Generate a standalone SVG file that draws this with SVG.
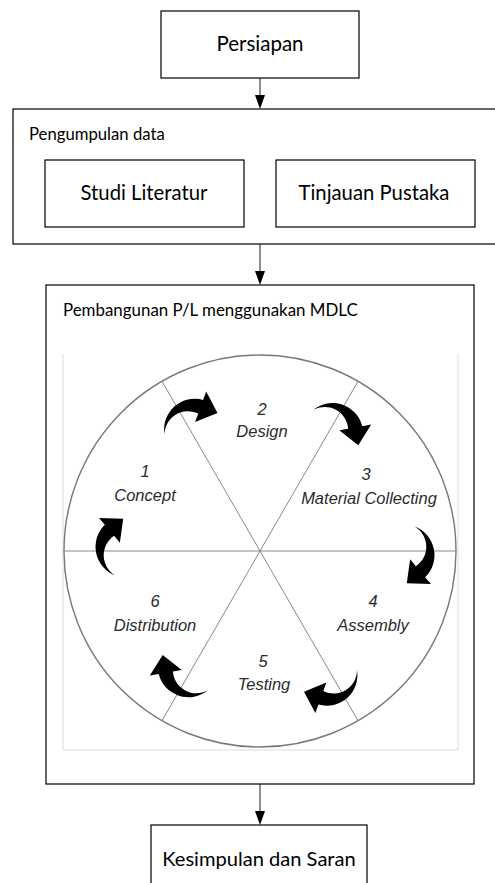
<svg xmlns="http://www.w3.org/2000/svg" xmlns:xlink="http://www.w3.org/1999/xlink" width="495" height="883" viewBox="0 0 495 883">
<style>
  .box { fill: #fff; stroke: #000; stroke-width: 1.2; }
  .t { font-family: Lato, "Open Sans", "Liberation Sans", sans-serif; fill: #000; }
  .conn { stroke: #444; stroke-width: 1.2; fill: none; }
  .div { stroke: #888; stroke-width: 1; fill: none; }
  .ring { stroke: #777; stroke-width: 1.4; fill: none; }
  .frame { stroke: #ddd; stroke-width: 1; fill: none; }
  .lbl { font-family: "Liberation Sans", Arial, sans-serif; font-style: italic; font-size: 16.5px; fill: #2b2b2b; text-anchor: middle; }
  .arr { fill: #000; }
</style>
<defs>
  <path id="carrow" d="M -27.2 9.3 A 34 34 0 0 1 29.1 -2.4 L 36.8 -8.9 L 35.8 18.0 L 9.2 14.3 L 16.9 7.9 A 26 26 0 0 0 -27.2 9.3 Z"/>
</defs>

<g id="connectors">
  <line class="conn" x1="260" y1="78" x2="260" y2="95"/>
  <path d="M255 95 L265 95 L260 109 Z" fill="#000"/>
  <line class="conn" x1="260" y1="244" x2="260" y2="271"/>
  <path d="M255 271 L265 271 L260 285 Z" fill="#000"/>
  <line class="conn" x1="260" y1="784" x2="260" y2="811"/>
  <path d="M255 811 L265 811 L260 825 Z" fill="#000"/>
</g>

<g id="persiapan">
  <rect class="box" x="161" y="11" width="198" height="67"/>
  <text class="t" x="260" y="51" font-size="20.5" text-anchor="middle">Persiapan</text>
</g>

<g id="pengumpulan-data">
  <rect class="box" x="13" y="109" width="500" height="135"/>
  <text class="t" x="29" y="140" font-size="16.7">Pengumpulan data</text>
</g>

<g id="studi-literatur">
  <rect class="box" x="45" y="160" width="199" height="67"/>
  <text class="t" x="144" y="200" font-size="20.3" text-anchor="middle">Studi Literatur</text>
</g>

<g id="tinjauan-pustaka">
  <rect class="box" x="276" y="160" width="199" height="67"/>
  <text class="t" x="374" y="200" font-size="20.3" text-anchor="middle">Tinjauan Pustaka</text>
</g>

<g id="mdlc">
  <rect class="box" x="46" y="285" width="428" height="499"/>
  <text class="t" x="63" y="316" font-size="16.9">Pembangunan P/L menggunakan MDLC</text>
  <g id="mdlc-image">
    <path class="frame" d="M63 354 V750 H458 V354"/>
    <circle class="ring" cx="260" cy="551" r="196"/>
    <line class="div" x1="64" y1="551" x2="456" y2="551"/>
    <line class="div" x1="162" y1="381.3" x2="358" y2="720.7"/>
    <line class="div" x1="358" y1="381.3" x2="162" y2="720.7"/>
    <use href="#carrow" class="arr" transform="translate(181.5 415) rotate(-30) scale(0.9)"/>
    <use href="#carrow" class="arr" transform="translate(338.5 415) rotate(30) scale(0.9)"/>
    <use href="#carrow" class="arr" transform="translate(423 551) rotate(90) scale(0.9)"/>
    <use href="#carrow" class="arr" transform="translate(340 689.6) rotate(150) scale(0.9)"/>
    <use href="#carrow" class="arr" transform="translate(182.5 685.2) rotate(210) scale(0.9)"/>
    <use href="#carrow" class="arr" transform="translate(107 551) rotate(270) scale(0.9)"/>
    <text class="lbl" x="145" y="477">1</text>
    <text class="lbl" x="145" y="501">Concept</text>
    <text class="lbl" x="262" y="415">2</text>
    <text class="lbl" x="262" y="437">Design</text>
    <text class="lbl" x="366" y="480">3</text>
    <text class="lbl" x="369" y="504">Material Collecting</text>
    <text class="lbl" x="373" y="607">4</text>
    <text class="lbl" x="373" y="631">Assembly</text>
    <text class="lbl" x="263" y="667">5</text>
    <text class="lbl" x="264" y="690">Testing</text>
    <text class="lbl" x="155" y="607">6</text>
    <text class="lbl" x="155" y="631">Distribution</text>
  </g>
</g>

<g id="kesimpulan">
  <rect class="box" x="151" y="825" width="216" height="80"/>
  <text class="t" x="259" y="866" font-size="20.1" text-anchor="middle">Kesimpulan dan Saran</text>
</g>
</svg>
